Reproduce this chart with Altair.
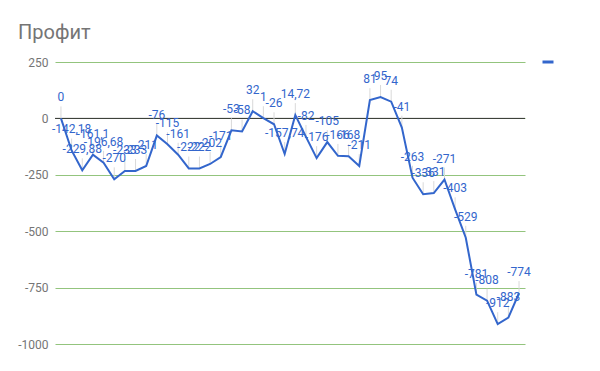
import altair as alt
import pandas as pd

# Values read from the point annotations
values = [0, -142.18, -229.88, -161.1, -196.68, -270, -233, -233, -211, -76,
          -115, -161, -222, -222, -202, -171, -53, -58, 32, 1,
          -26, -157.74, 14.72, -82, -176, -105, -166, -168, -211, 81,
          95, 74, -41, -263, -336, -331, -271, -403, -529, -781,
          -808, -912, -883, -774]
y_ticks = [250, 0, -250, -500, -750, -1000]
series_name = " "
title_text = "Профит"


def fmt(v):
    if float(v).is_integer():
        return str(int(v))
    return str(v).replace(".", ",")


labels = [fmt(v) for v in values]
idx = list(range(len(values)))

df = pd.DataFrame({"i": idx, "v": values, "label": labels,
                   "series": [series_name] * len(values)})
zero_df = pd.DataFrame({"z": [0]})

BLUE = "#3366cc"
FONT = "Roboto"

xenc = alt.X("i:Q", scale=alt.Scale(domain=[-0.56, 43.56], nice=False, zero=False), axis=None)
yscale = alt.Scale(domain=[-1000, 250], nice=False, zero=False)
yaxis = alt.Axis(values=y_ticks, title=None, domain=False, ticks=False, labelPadding=7,
                 labelFontSize=12, labelColor="#757575", labelFont=FONT,
                 gridColor="#93c47d", gridWidth=1, labelExpr="datum.value + ''")

base = alt.Chart(df)

grid = base.mark_line(opacity=0).encode(x=xenc, y=alt.Y("v:Q", scale=yscale, axis=yaxis))

zero = alt.Chart(zero_df).mark_rule(color="#333333", strokeWidth=1).encode(
    y=alt.Y("z:Q", scale=yscale))

stems = base.transform_calculate(top="datum.v + 53").mark_rule(
    color="#d9d9d9", strokeWidth=1).encode(
    x=xenc, y=alt.Y("v:Q", scale=yscale), y2="top:Q")

line = base.mark_line(strokeWidth=2).encode(
    x=xenc, y=alt.Y("v:Q", scale=yscale),
    color=alt.Color("series:N", scale=alt.Scale(range=[BLUE]),
                    legend=alt.Legend(title=None, orient="none", legendX=486, legendY=-7,
                                      symbolType="stroke", symbolStrokeWidth=3,
                                      symbolSize=121, labelFontSize=1)))

text = base.mark_text(dy=-21, baseline="middle", align="center", font=FONT,
                      fontSize=12, color=BLUE).encode(
    x=xenc, y=alt.Y("v:Q", scale=yscale), text="label:N")

chart = alt.layer(grid, zero, stems, line, text).properties(
    width=470, height=282,
    title=alt.TitleParams(title_text, anchor="start", frame="group", dx=-37, offset=20,
                          dy=8, fontSize=20, font=FONT, fontWeight="normal", color="#757575"),
    autosize=alt.AutoSizeParams(type="none"),
    padding={"left": 55, "top": 62, "right": 75, "bottom": 27},
).configure_view(stroke=None)

chart.save("out.html", embed_options={"renderer": "svg", "actions": False})
